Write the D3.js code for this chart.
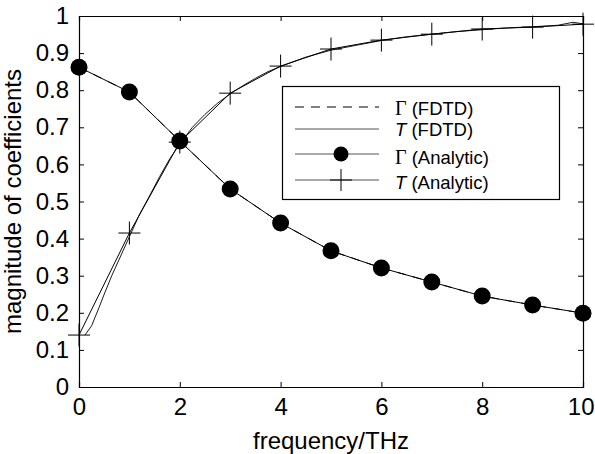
<!DOCTYPE html>
<html>
<head>
<meta charset="utf-8">
<script src="https://cdn.jsdelivr.net/npm/d3@7"></script>
<style>
  body { margin: 0; background: #fff; }
  text { font-family: "Liberation Sans", Arial, Helvetica, sans-serif; fill: #000; }
</style>
</head>
<body>
<div id="chart"></div>
<script>
// analytic values at each integer THz
const freq = [0, 1, 2, 3, 4, 5, 6, 7, 8, 9, 10];
const gammaAnalytic = [0.862, 0.795, 0.663, 0.534, 0.442, 0.367, 0.321, 0.283, 0.245, 0.221, 0.199];
const tAnalytic = [0.14, 0.415, 0.66, 0.792, 0.865, 0.911, 0.935, 0.951, 0.965, 0.970, 0.978];

// FDTD curves
const gammaFdtdFreq = [0, 1, 2, 3, 4, 5, 6, 7, 8, 9, 10];
const gammaFdtd = [0.862, 0.795, 0.663, 0.534, 0.442, 0.367, 0.321, 0.283, 0.245, 0.221, 0.199];
const tFdtdFreq = [0.12, 0.25, 0.4, 0.5, 0.65, 0.8, 1.0, 1.2, 1.4, 1.6, 1.8, 2.0, 2.25, 2.5, 2.75, 3.0,
  3.25, 3.5, 3.75, 4.0, 4.5, 5.0, 5.5, 6.0, 6.5, 7.0, 7.5, 8.0, 8.5, 9.0, 9.5, 9.8, 10.0];
const tFdtd = [0.14, 0.165, 0.215, 0.25, 0.30, 0.345, 0.405, 0.465, 0.515, 0.567, 0.615, 0.655, 0.70, 0.735, 0.765, 0.79,
  0.812, 0.832, 0.85, 0.864, 0.889, 0.908, 0.921, 0.934, 0.944, 0.951, 0.958, 0.963, 0.968, 0.971, 0.975, 0.983, 0.979];

const xTicks = [0, 2, 4, 6, 8, 10];
const yTicks = [0, 0.1, 0.2, 0.3, 0.4, 0.5, 0.6, 0.7, 0.8, 0.9, 1];

const legendItems = [
  { label: 'Γ', rest: ' (FDTD)', kind: 'dash' },
  { label: 'T', rest: ' (FDTD)', kind: 'line' },
  { label: 'Γ', rest: ' (Analytic)', kind: 'circle' },
  { label: 'T', rest: ' (Analytic)', kind: 'plus' }
];

const margin = { top: 16, right: 12, bottom: 67, left: 79 };
const width = 595 - margin.left - margin.right;
const height = 454 - margin.top - margin.bottom;

const svg = d3.select('#chart')
  .append('svg')
  .attr('width', 595)
  .attr('height', 454)
  .append('g')
  .attr('transform', `translate(${margin.left},${margin.top})`);

const xScale = d3.scaleLinear().domain([0, 10]).range([0, width]);
const yScale = d3.scaleLinear().domain([0, 1]).range([height, 0]);

// axes with inward ticks on all four sides (box)
svg.append('g')
  .attr('transform', `translate(0,${height})`)
  .call(d3.axisBottom(xScale).tickValues(xTicks).tickSize(-5).tickPadding(11).tickFormat(d3.format('d')))
  .call(g => g.selectAll('text').attr('font-size', '24px').attr('font-family', null))
  // last label sits against the page edge
  .call(g => g.selectAll('.tick').filter(d => d === 10).select('text')
    .attr('text-anchor', 'end').attr('x', 11));

svg.append('g')
  .call(d3.axisLeft(yScale).tickValues(yTicks).tickSize(-5).tickPadding(10).tickFormat(d => d3.format('~g')(d)))
  .call(g => g.selectAll('text').attr('font-size', '24px').attr('font-family', null));

svg.append('g')
  .call(d3.axisTop(xScale).tickValues(xTicks).tickSize(-5).tickFormat(''));

svg.append('g')
  .attr('transform', `translate(${width},0)`)
  .call(d3.axisRight(yScale).tickValues(yTicks).tickSize(-5).tickFormat(''));

svg.selectAll('.domain').attr('stroke', '#000').attr('stroke-width', 1.2);
svg.selectAll('.tick line').attr('stroke', '#000');

const line = d3.line()
  .x(d => xScale(d[0]))
  .y(d => yScale(d[1]));

// Γ (FDTD) dashed
svg.append('path')
  .datum(gammaFdtdFreq.map((f, i) => [f, gammaFdtd[i]]))
  .attr('fill', 'none')
  .attr('stroke', '#000')
  .attr('stroke-dasharray', '9,7')
  .attr('d', line);

// T (FDTD)
svg.append('path')
  .datum(tFdtdFreq.map((f, i) => [f, tFdtd[i]]))
  .attr('fill', 'none')
  .attr('stroke', '#000')
  .attr('stroke-width', 0.9)
  .attr('d', line);

// Γ (Analytic)
svg.append('path')
  .datum(freq.map((f, i) => [f, gammaAnalytic[i]]))
  .attr('fill', 'none')
  .attr('stroke', '#000')
  .attr('d', line);

svg.selectAll('.gamma-dot')
  .data(freq.map((f, i) => [f, gammaAnalytic[i]]))
  .enter()
  .append('circle')
  .attr('class', 'gamma-dot')
  .attr('cx', d => xScale(d[0]))
  .attr('cy', d => yScale(d[1]))
  .attr('r', 8.5)
  .attr('fill', '#000');

// T (Analytic)
svg.append('path')
  .datum(freq.map((f, i) => [f, tAnalytic[i]]))
  .attr('fill', 'none')
  .attr('stroke', '#000')
  .attr('d', line);

svg.selectAll('.t-plus')
  .data(freq.map((f, i) => [f, tAnalytic[i]]))
  .enter()
  .append('path')
  .attr('class', 't-plus')
  .attr('d', d => {
    const x = xScale(d[0]), y = yScale(d[1]);
    return `M${x - 11},${y}H${x + 11}M${x},${y - 11.5}V${y + 11.5}`;
  })
  .attr('stroke', '#000')
  .attr('stroke-width', 1);

// axis titles
svg.append('text')
  .attr('x', width / 2)
  .attr('y', height + 62)
  .attr('text-anchor', 'middle')
  .attr('font-size', '24px')
  .text('frequency/THz');

svg.append('text')
  .attr('transform', `translate(${-58},${height / 2}) rotate(-90)`)
  .attr('text-anchor', 'middle')
  .attr('font-size', '24px')
  .text('magnitude of coefficients');

// legend
const legend = svg.append('g')
  .attr('transform', `translate(${282 - margin.left},${86 - margin.top})`);

legend.append('rect')
  .attr('x', 0.5)
  .attr('y', 0.5)
  .attr('width', 277)
  .attr('height', 113)
  .attr('fill', '#fff')
  .attr('stroke', '#000')
  .attr('stroke-width', 1.2);

const lineY = [21, 43, 68, 94];
const textY = [29, 50, 78, 103];

legendItems.forEach((item, i) => {
  const ly = lineY[i];
  const l = legend.append('line')
    .attr('x1', 13)
    .attr('x2', 97)
    .attr('y1', ly)
    .attr('y2', ly)
    .attr('stroke', item.kind === 'dash' ? '#000' : '#555');
  if (item.kind === 'dash') l.attr('stroke-dasharray', '9,7');
  if (item.kind === 'circle') {
    legend.append('circle').attr('cx', 59).attr('cy', ly).attr('r', 7.5).attr('fill', '#000');
  }
  if (item.kind === 'plus') {
    legend.append('path')
      .attr('d', `M48,${ly}H70M59,${ly - 11}V${ly + 11}`)
      .attr('stroke', '#000');
  }
  const t = legend.append('text')
    .attr('x', 113)
    .attr('y', textY[i])
    .attr('font-size', '18.5px');
  if (item.label === 'Γ') {
    t.append('tspan').attr('font-family', '"Liberation Serif", "Times New Roman", serif').attr('font-size', '20px').text('Γ');
  } else {
    t.append('tspan').attr('font-style', 'italic').text('T');
  }
  t.append('tspan').text(item.rest);
});
</script>
</body>
</html>
